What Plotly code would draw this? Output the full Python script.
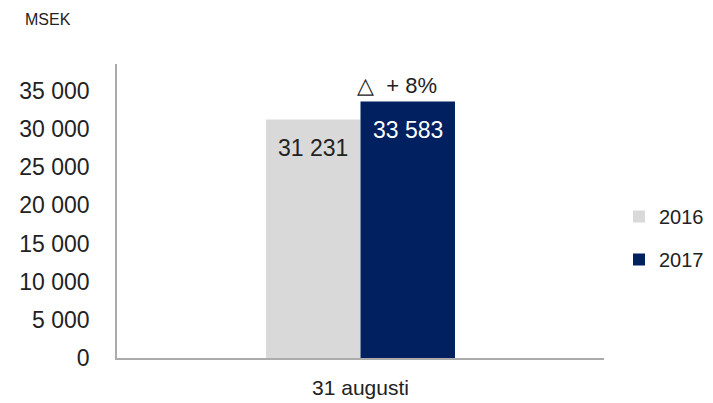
import plotly.graph_objects as go

categories = ["31 augusti"]
series_names = ["2016", "2017"]
values_2016 = [31231]
values_2017 = [33583]
colors = ["#d9d9d9", "#002060"]
y_ticks = [0, 5000, 10000, 15000, 20000, 25000, 30000, 35000]
unit_label = "MSEK"
change_label = "\u25b3  + 8%"

FONT = "Liberation Sans, Arial, Helvetica, sans-serif"
OFF = 8  # default page body margin
W, H = 713 - OFF, 403 - OFF
bargap = 0.612
plot_left, plot_right = 117 - OFF, 604 - OFF
plot_top, plot_bottom = 64 - OFF, 358 - OFF
plot_w = plot_right - plot_left
plot_h = plot_bottom - plot_top
bar_w_px = plot_w * (1 - bargap) / 2

fig = go.Figure()
for i, (name, vals) in enumerate(zip(series_names, [values_2016, values_2017])):
    fig.add_trace(go.Bar(
        x=categories, y=vals, name=name,
        marker=dict(color=colors[i], line=dict(width=0)),
        legendgroup=name,
    ))

def fmt(v):
    return f"{v:,}".replace(",", " ")

for i, vals in enumerate([values_2016, values_2017]):
    shift = (i - 0.5) * bar_w_px
    for c, v in zip(categories, vals):
        fig.add_annotation(
            x=c, y=v, text=fmt(v), showarrow=False,
            xshift=shift, yshift=-28, yanchor="middle",
            font=dict(family=FONT, size=23, color="#ffffff" if i == 1 else "#222222"),
        )

fig.add_annotation(
    x=categories[0], y=values_2017[0], text=change_label, showarrow=False,
    xshift=0.5 * bar_w_px + 31, yshift=16, xanchor="right", yanchor="middle",
    font=dict(family=FONT, size=22, color="#222222"),
)

fig.add_annotation(
    xref="paper", yref="paper", x=(23 - OFF - plot_left) / plot_w,
    y=(plot_bottom - (19.5 - OFF)) / plot_h,
    xanchor="left", yanchor="middle",
    text=unit_label, showarrow=False,
    font=dict(family=FONT, size=16, color="#222222"),
)

fig.update_layout(
    width=W, height=H,
    margin=dict(l=plot_left, r=W - plot_right, t=plot_top, b=H - plot_bottom, autoexpand=False),
    paper_bgcolor="white", plot_bgcolor="white",
    barmode="group", bargap=bargap, bargroupgap=0,
    separators=", ",
    font=dict(family=FONT, size=22, color="#222222"),
    legend=dict(
        x=(619 - OFF - plot_left) / plot_w, y=(plot_bottom - (238 - OFF)) / plot_h,
        xanchor="left", yanchor="middle",
        font=dict(family=FONT, size=20, color="#222222"),
        tracegroupgap=14, bgcolor="rgba(0,0,0,0)",
    ),
    showlegend=True,
)
fig.update_xaxes(
    showline=True, linecolor="#ababab", linewidth=1.5, automargin=False,
    showgrid=False, ticks="", ticklabelstandoff=10,
    tickfont=dict(family=FONT, size=21, color="#222222"),
)
fig.update_yaxes(
    range=[0, 38500], showline=True, linecolor="#ababab", linewidth=1.5,
    showgrid=False, zeroline=False, ticks="", automargin=False,
    tickvals=y_ticks, tickformat=",d", ticklabelstandoff=21,
    tickfont=dict(family=FONT, size=23, color="#222222"),
)

fig.write_html("out.html")
